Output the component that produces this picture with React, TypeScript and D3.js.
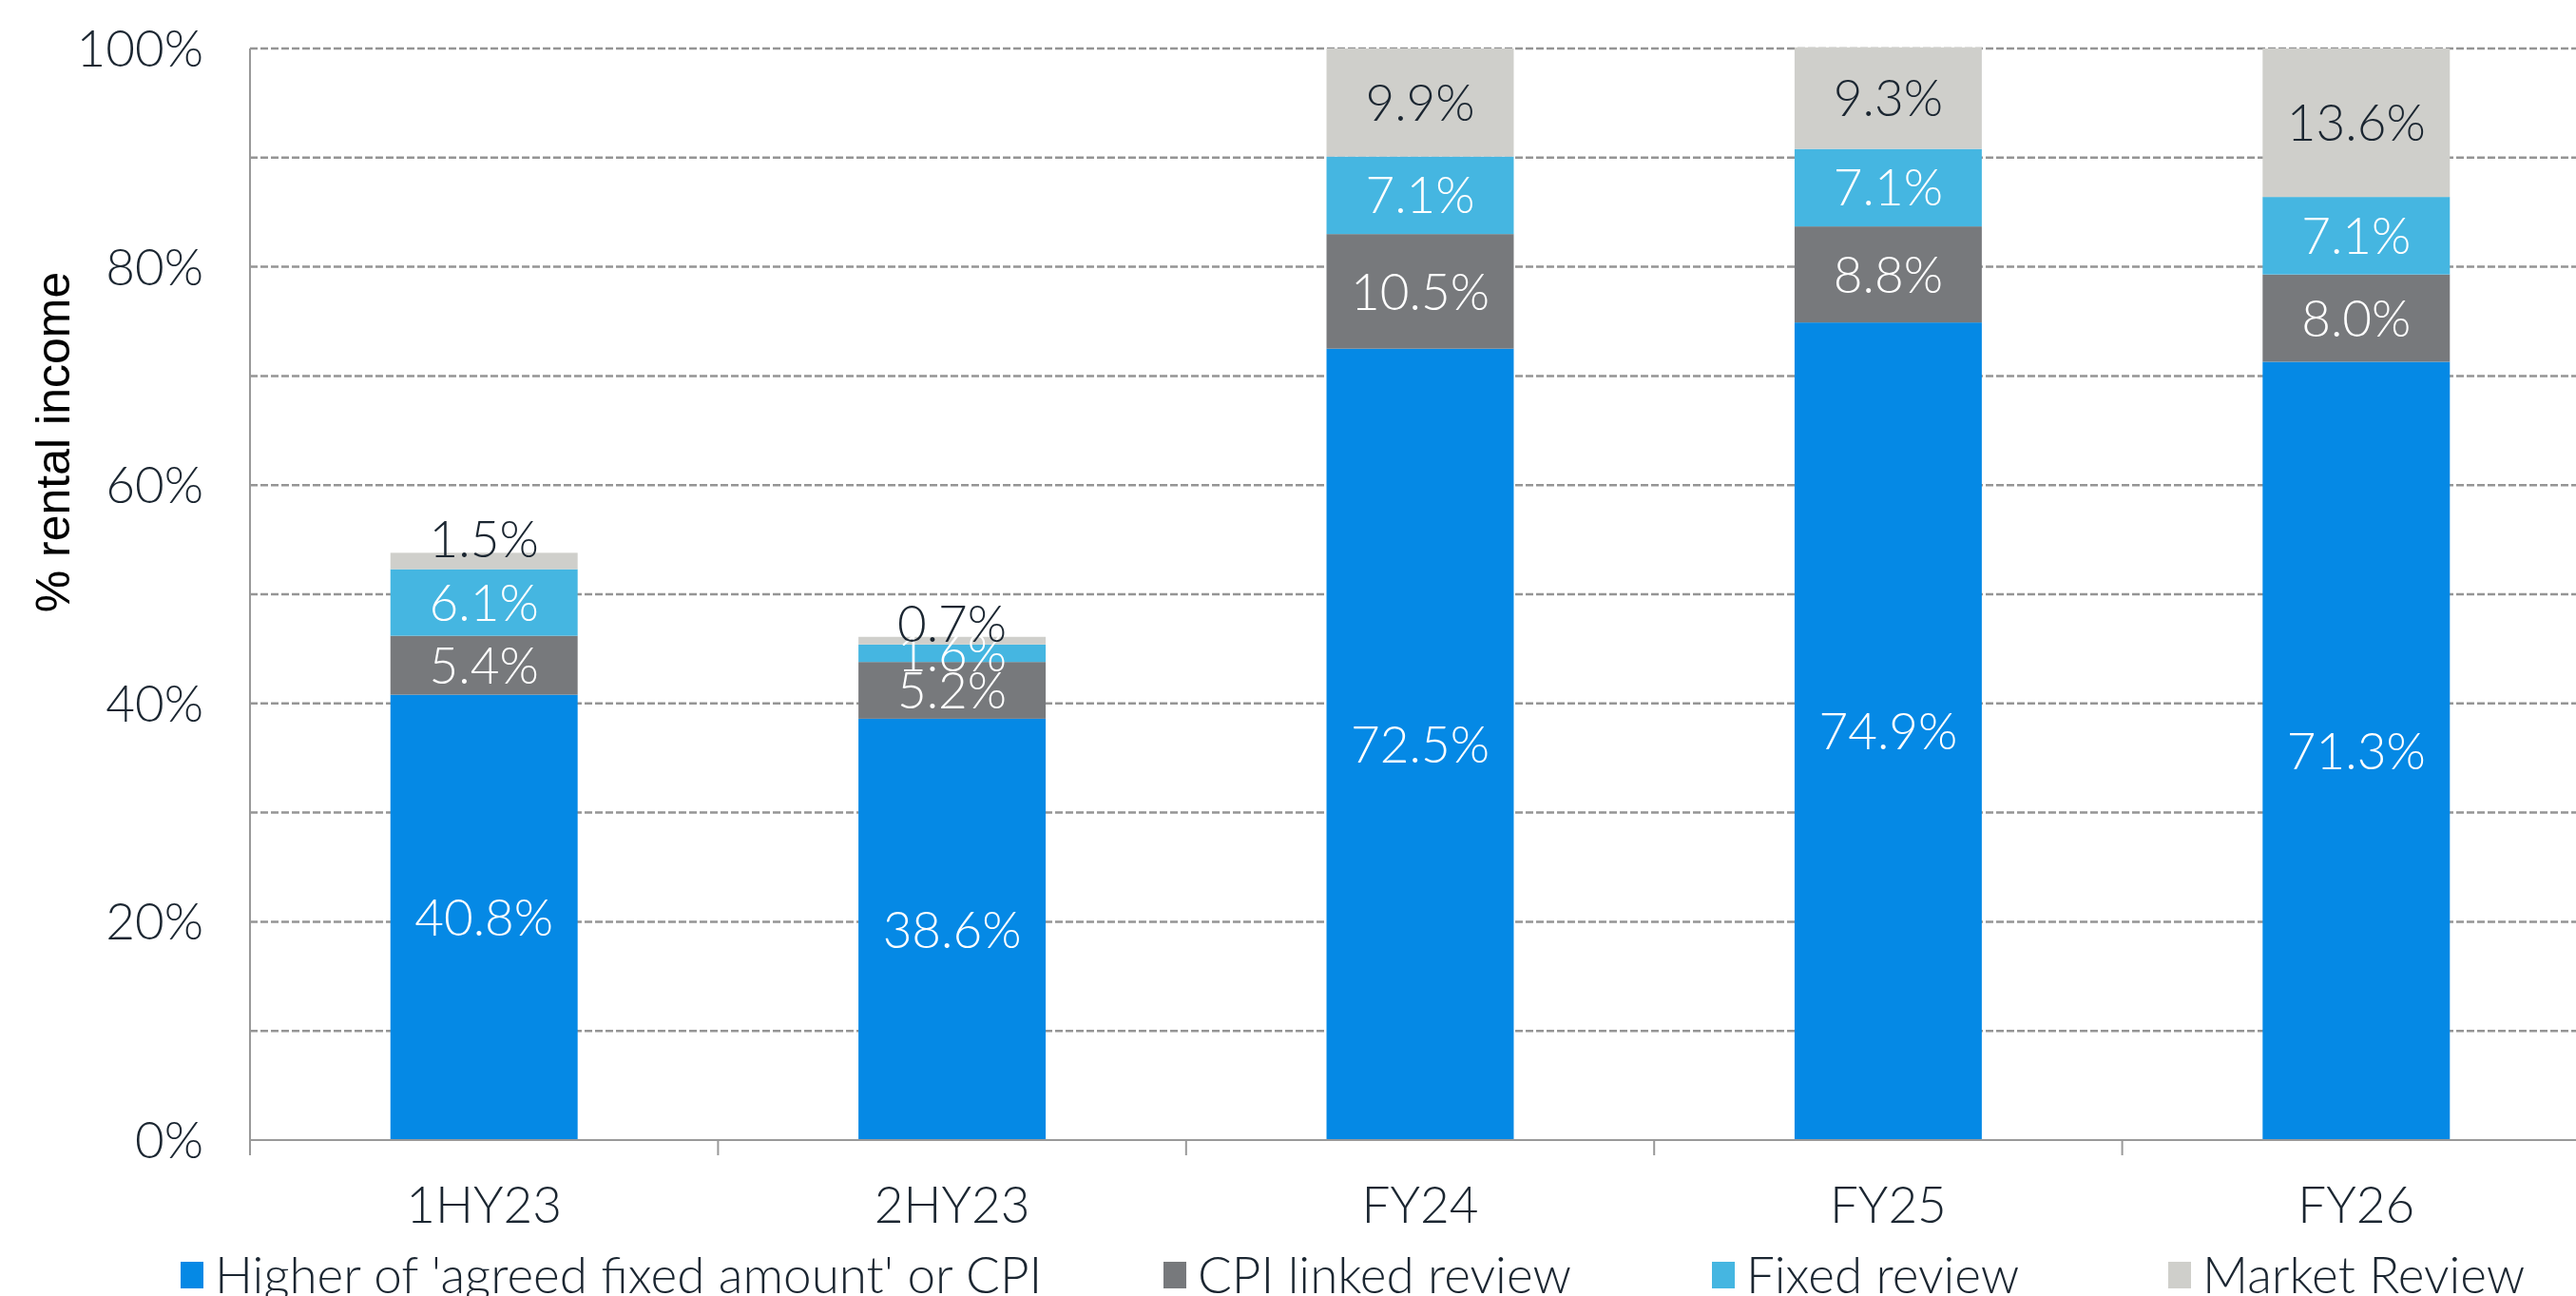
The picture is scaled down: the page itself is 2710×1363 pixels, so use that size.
import React from "react";
import { scaleBand, scaleLinear, stack, range } from "d3";

const width = 2710;
const height = 1363;

const margin = { top: 51, left: 263, bottom: 1199, right: 2725 };

// Data
const categories = ["1HY23", "2HY23", "FY24", "FY25", "FY26"];
const seriesNames = [
  "Higher of 'agreed fixed amount' or CPI",
  "CPI linked review",
  "Fixed review",
  "Market Review",
];
const higherOf = [40.8, 38.6, 72.5, 74.9, 71.3];
const cpiLinked = [5.4, 5.2, 10.5, 8.8, 8.0];
const fixedReview = [6.1, 1.6, 7.1, 7.1, 7.1];
const marketReview = [1.5, 0.7, 9.9, 9.3, 13.6];
const yTicks = [0, 20, 40, 60, 80, 100];

const colors = ["#0589e5", "#77797c", "#45b6e1", "#cfcfcb"];
const labelColors = ["#ffffff", "#ffffff", "#ffffff", "#1b2631"];
const legendX = [190, 1224, 1801, 2281];

const font = "Lato, 'Open Sans', sans-serif";
const fontWeight = 300;
const textColor = "#1b2631";

const rows = categories.map((c, i) => ({
  cat: c,
  s0: higherOf[i],
  s1: cpiLinked[i],
  s2: fixedReview[i],
  s3: marketReview[i],
}));

export default function App() {
  const x = scaleBand<string>()
    .domain(categories)
    .range([margin.left, margin.right])
    .paddingInner(0.6)
    .paddingOuter(0.3);

  const y = scaleLinear().domain([0, 100]).range([margin.bottom, margin.top]);

  const stacked = stack<any>().keys(["s0", "s1", "s2", "s3"])(rows);
  const step = x.step();

  return (
    <svg
      width={width}
      height={height}
      style={{ position: "absolute", left: 0, top: 0, background: "#fff" }}
    >
      {/* gridlines every 10% */}
      {range(10, 101, 10).map((v) => (
        <line
          key={v}
          x1={margin.left}
          x2={margin.right}
          y1={y(v)}
          y2={y(v)}
          stroke="#959595"
          strokeWidth={2.5}
          strokeDasharray="8 3"
        />
      ))}

      {/* bars */}
      {stacked.map((layer, si) =>
        layer.map((d, ci) => (
          <rect
            key={`${si}-${ci}`}
            x={x(categories[ci])}
            width={x.bandwidth()}
            y={y(d[1])}
            height={y(d[0]) - y(d[1])}
            fill={colors[si]}
          />
        ))
      )}

      {/* axes */}
      <line x1={margin.left} x2={margin.left} y1={margin.top} y2={margin.bottom + 16} stroke="#999" strokeWidth={2} />
      <line x1={margin.left} x2={margin.right} y1={margin.bottom} y2={margin.bottom} stroke="#999" strokeWidth={2} />
      {range(1, categories.length + 1).map((i) => (
        <line
          key={i}
          x1={margin.left + i * step}
          x2={margin.left + i * step}
          y1={margin.bottom}
          y2={margin.bottom + 16}
          stroke="#999"
          strokeWidth={2}
        />
      ))}

      {/* data labels */}
      {stacked.map((layer, si) =>
        layer.map((d, ci) => {
          const v = d[1] - d[0];
          const small = si === 3 && v < 3;
          const cy = small ? y(d[1]) - 14 : (y(d[0]) + y(d[1])) / 2;
          return (
            <text
              key={`l${si}-${ci}`}
              x={(x(categories[ci]) as number) + x.bandwidth() / 2}
              y={cy}
              dy="0.36em"
              textAnchor="middle"
              fontFamily={font}
              fontWeight={fontWeight}
              fontSize={53}
              fill={labelColors[si]}
            >
              {v.toFixed(1) + "%"}
            </text>
          );
        })
      )}

      {/* y tick labels */}
      {yTicks.map((t) => (
        <text
          key={t}
          x={214}
          y={y(t)}
          dy="0.36em"
          textAnchor="end"
          fontFamily={font}
          fontWeight={fontWeight}
          fontSize={53}
          fill={textColor}
        >
          {t + "%"}
        </text>
      ))}

      {/* category labels */}
      {categories.map((c) => (
        <text
          key={c}
          x={(x(c) as number) + x.bandwidth() / 2}
          y={1267}
          dy="0.36em"
          textAnchor="middle"
          fontFamily={font}
          fontWeight={fontWeight}
          fontSize={53}
          fill={textColor}
        >
          {c}
        </text>
      ))}

      {/* y axis title */}
      <text
        transform="translate(55,465) rotate(-90)"
        textAnchor="middle"
        dy="0.36em"
        fontFamily="'Liberation Sans', Arial, sans-serif"
        fontSize={50}
        fill="#000"
      >
        % rental income
      </text>

      {/* legend */}
      {seriesNames.map((n, i) => (
        <g key={n} transform={`translate(${legendX[i]},1341)`}>
          <rect x={0} y={-14} width={24} height={28} fill={colors[i]} />
          <text
            x={36}
            y={0}
            dy="0.36em"
            fontFamily={font}
            fontWeight={fontWeight}
            fontSize={53}
            fill={textColor}
          >
            {n}
          </text>
        </g>
      ))}
    </svg>
  );
}
